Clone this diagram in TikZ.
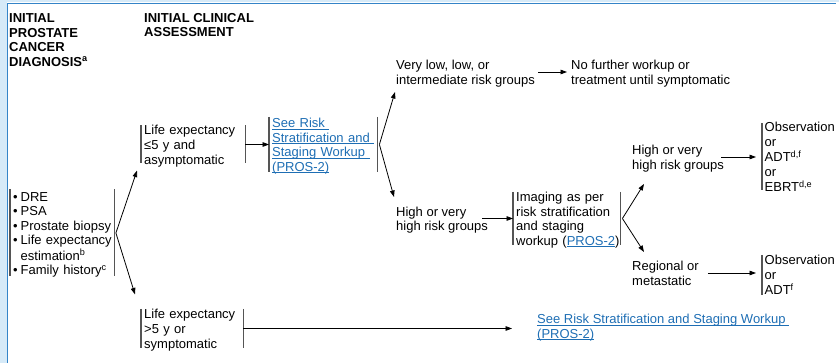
\documentclass[tikz,border=0pt]{standalone}
\usepackage{fontspec}
\setmainfont{Liberation Sans}
\usetikzlibrary{arrows.meta,calc}

\definecolor{linkblue}{RGB}{30,110,180}
\definecolor{framefill}{RGB}{214,234,248}
\definecolor{frameline}{RGB}{52,132,200}
\definecolor{bargray}{RGB}{85,85,85}

% underlined hyperlink-style text, rule at a fixed depth
\newsavebox\lnkbox
\newcommand{\lnk}[1]{\textcolor{linkblue}{\sbox\lnkbox{#1}\rlap{\rule[-1.9pt]{\wd\lnkbox}{0.8pt}}\usebox\lnkbox}}
\newcommand{\bodyfont}{\fontsize{13}{14.6}\selectfont}
% unbreakable left-aligned lines, set a little low inside their box
\newcommand{\rows}[1]{\raisebox{-2pt}[\height][\depth]{\begin{tabular}{@{}l@{}}#1\end{tabular}}}
\newcommand{\bul}{\makebox[7.5pt][l]{\textbullet}}
% vertical bars on both sides of a box, #2 = half the bar length
\newcommand{\sidebars}[2]{%
  \draw[bar] ([yshift=#2pt]#1.west) -- ([yshift=-#2pt]#1.west)
             ([yshift=#2pt]#1.east) -- ([yshift=-#2pt]#1.east);}
\newcommand{\leftbar}[2]{%
  \draw[bar] ([yshift=#2pt]#1.west) -- ([yshift=-#2pt]#1.west);}

\begin{document}
\begin{tikzpicture}[x=1pt,y=-1pt,
  every node/.style={font=\bodyfont},
  txt/.style={inner sep=0pt, anchor=west},
  hdr/.style={inner sep=0pt, anchor=west, font=\bodyfont\bfseries},
  bbox/.style={anchor=west, inner xsep=3pt, inner ysep=0pt, align=left},
  bar/.style={draw=bargray, line width=1.2pt},
  arr/.style={draw=black, line width=0.8pt, -{Triangle[length=6.5pt,width=4.6pt]}},
  fork/.style={draw=black, line width=0.8pt, -{Triangle[length=6.5pt,width=4.6pt]}}]

\useasboundingbox (0,0) rectangle (839,363);

% page frame
\fill[framefill] (0,0) rectangle (7,363);
\fill[framefill] (0,0) rectangle (839,2.5);
\draw[frameline, line width=1.6pt] (7.6,363) -- (7.6,3.6) -- (836,3.6);

% column headings
\node[hdr] (h1) at (9,39.5) {\rows{INITIAL\\PROSTATE\\CANCER\\DIAGNOSIS\textsuperscript{a}}};
\node[hdr] (h2) at (144,24.5) {\rows{INITIAL CLINICAL\\ASSESSMENT}};

% diagnosis workup
\node[bbox, text width=98pt] (dx) at (10,233) {\rows{%
  \bul DRE\\
  \bul PSA\\
  \bul Prostate biopsy\\
  \bul Life expectancy\\
  \hspace*{7.5pt}estimation\textsuperscript{b}\\
  \bul Family history\textsuperscript{c}}};

% life expectancy branches
\node[bbox, text width=98pt] (le1) at (141,144.5) {\rows{Life expectancy\\≤5 y and\\asymptomatic}};
\node[bbox, text width=96pt] (le2) at (141,328.5) {\rows{Life expectancy\\>5 y or\\symptomatic}};

% risk stratification reference
\node[bbox, text width=102pt] (risk) at (269,144.5) {\rows{%
  \lnk{See Risk\ }\\\lnk{Stratification and\ }\\\lnk{Staging Workup\ }\\\lnk{(PROS-2)}}};

\node[txt] (vlow) at (396,72) {\rows{Very low, low, or\\intermediate risk groups}};
\node[txt] (nf) at (571,72) {\rows{No further workup or\\treatment until symptomatic}};
\node[txt] (high1) at (396,218.5) {\rows{High or very\\high risk groups}};

% imaging
\node[bbox, text width=101pt] (img) at (513,218.5) {\rows{%
  Imaging as per\\risk stratification\\and staging\\workup (\lnk{PROS-2})}};

\node[txt] (high2) at (632,157) {\rows{High or very\\high risk groups}};
\node[txt] (reg) at (632,273) {\rows{Regional or\\metastatic}};

% treatment options
\node[bbox, inner xsep=2.5pt] (rb1) at (762,157) {\rows{Observation\\or\\ADT\textsuperscript{d,f}\\or\\EBRT\textsuperscript{d,e}}};
\node[bbox, inner xsep=2.5pt] (rb2) at (762,275) {\rows{Observation\\or\\ADT\textsuperscript{f}}};

\node[txt] (lk) at (537,326) {\rows{\lnk{See Risk Stratification and Staging Workup\ }\\\lnk{(PROS-2)}}};

% box side bars
\sidebars{dx}{43.5}
\sidebars{le1}{19}
\sidebars{le2}{19.5}
\sidebars{risk}{27.5}
\sidebars{img}{26.5}
\leftbar{rb1}{33.5}
\leftbar{rb2}{20}

% connectors
\draw[fork] ([xshift=1.5pt]dx.east) -- ($(le1.south west)+(-4,4)$);
\draw[fork] ([xshift=1.5pt]dx.east) -- ($(le2.north west)+(-6,-12)$);
\draw[arr] (le1.east) -- (le1.east -| risk.west);
\draw[fork] ([xshift=2pt]risk.east) -- ($(vlow.west)+(-1,20)$);
\draw[fork] ([xshift=2pt]risk.east) -- ($(high1.west)+(-2,-21.5)$);
\draw[arr] ([xshift=3pt]vlow.east) -- ([xshift=-4pt]nf.west);
\draw[arr] ([xshift=-6pt]high1.east) -- (high1.east -| img.west);
\draw[fork] ([xshift=2pt]img.east) -- ($(high2.west)+(12,27)$);
\draw[fork] ([xshift=2pt]img.east) -- ($(reg.west)+(12,-21)$);
\draw[arr] ([xshift=-3pt]high2.east) -- ([xshift=-6pt]high2.east -| rb1.west);
\draw[arr] ([xshift=9pt]reg.east) -- ([xshift=-6pt]reg.east -| rb2.west);
\draw[arr] (le2.east) -- ([xshift=-25pt]le2.east -| lk.west);
\end{tikzpicture}
\end{document}
